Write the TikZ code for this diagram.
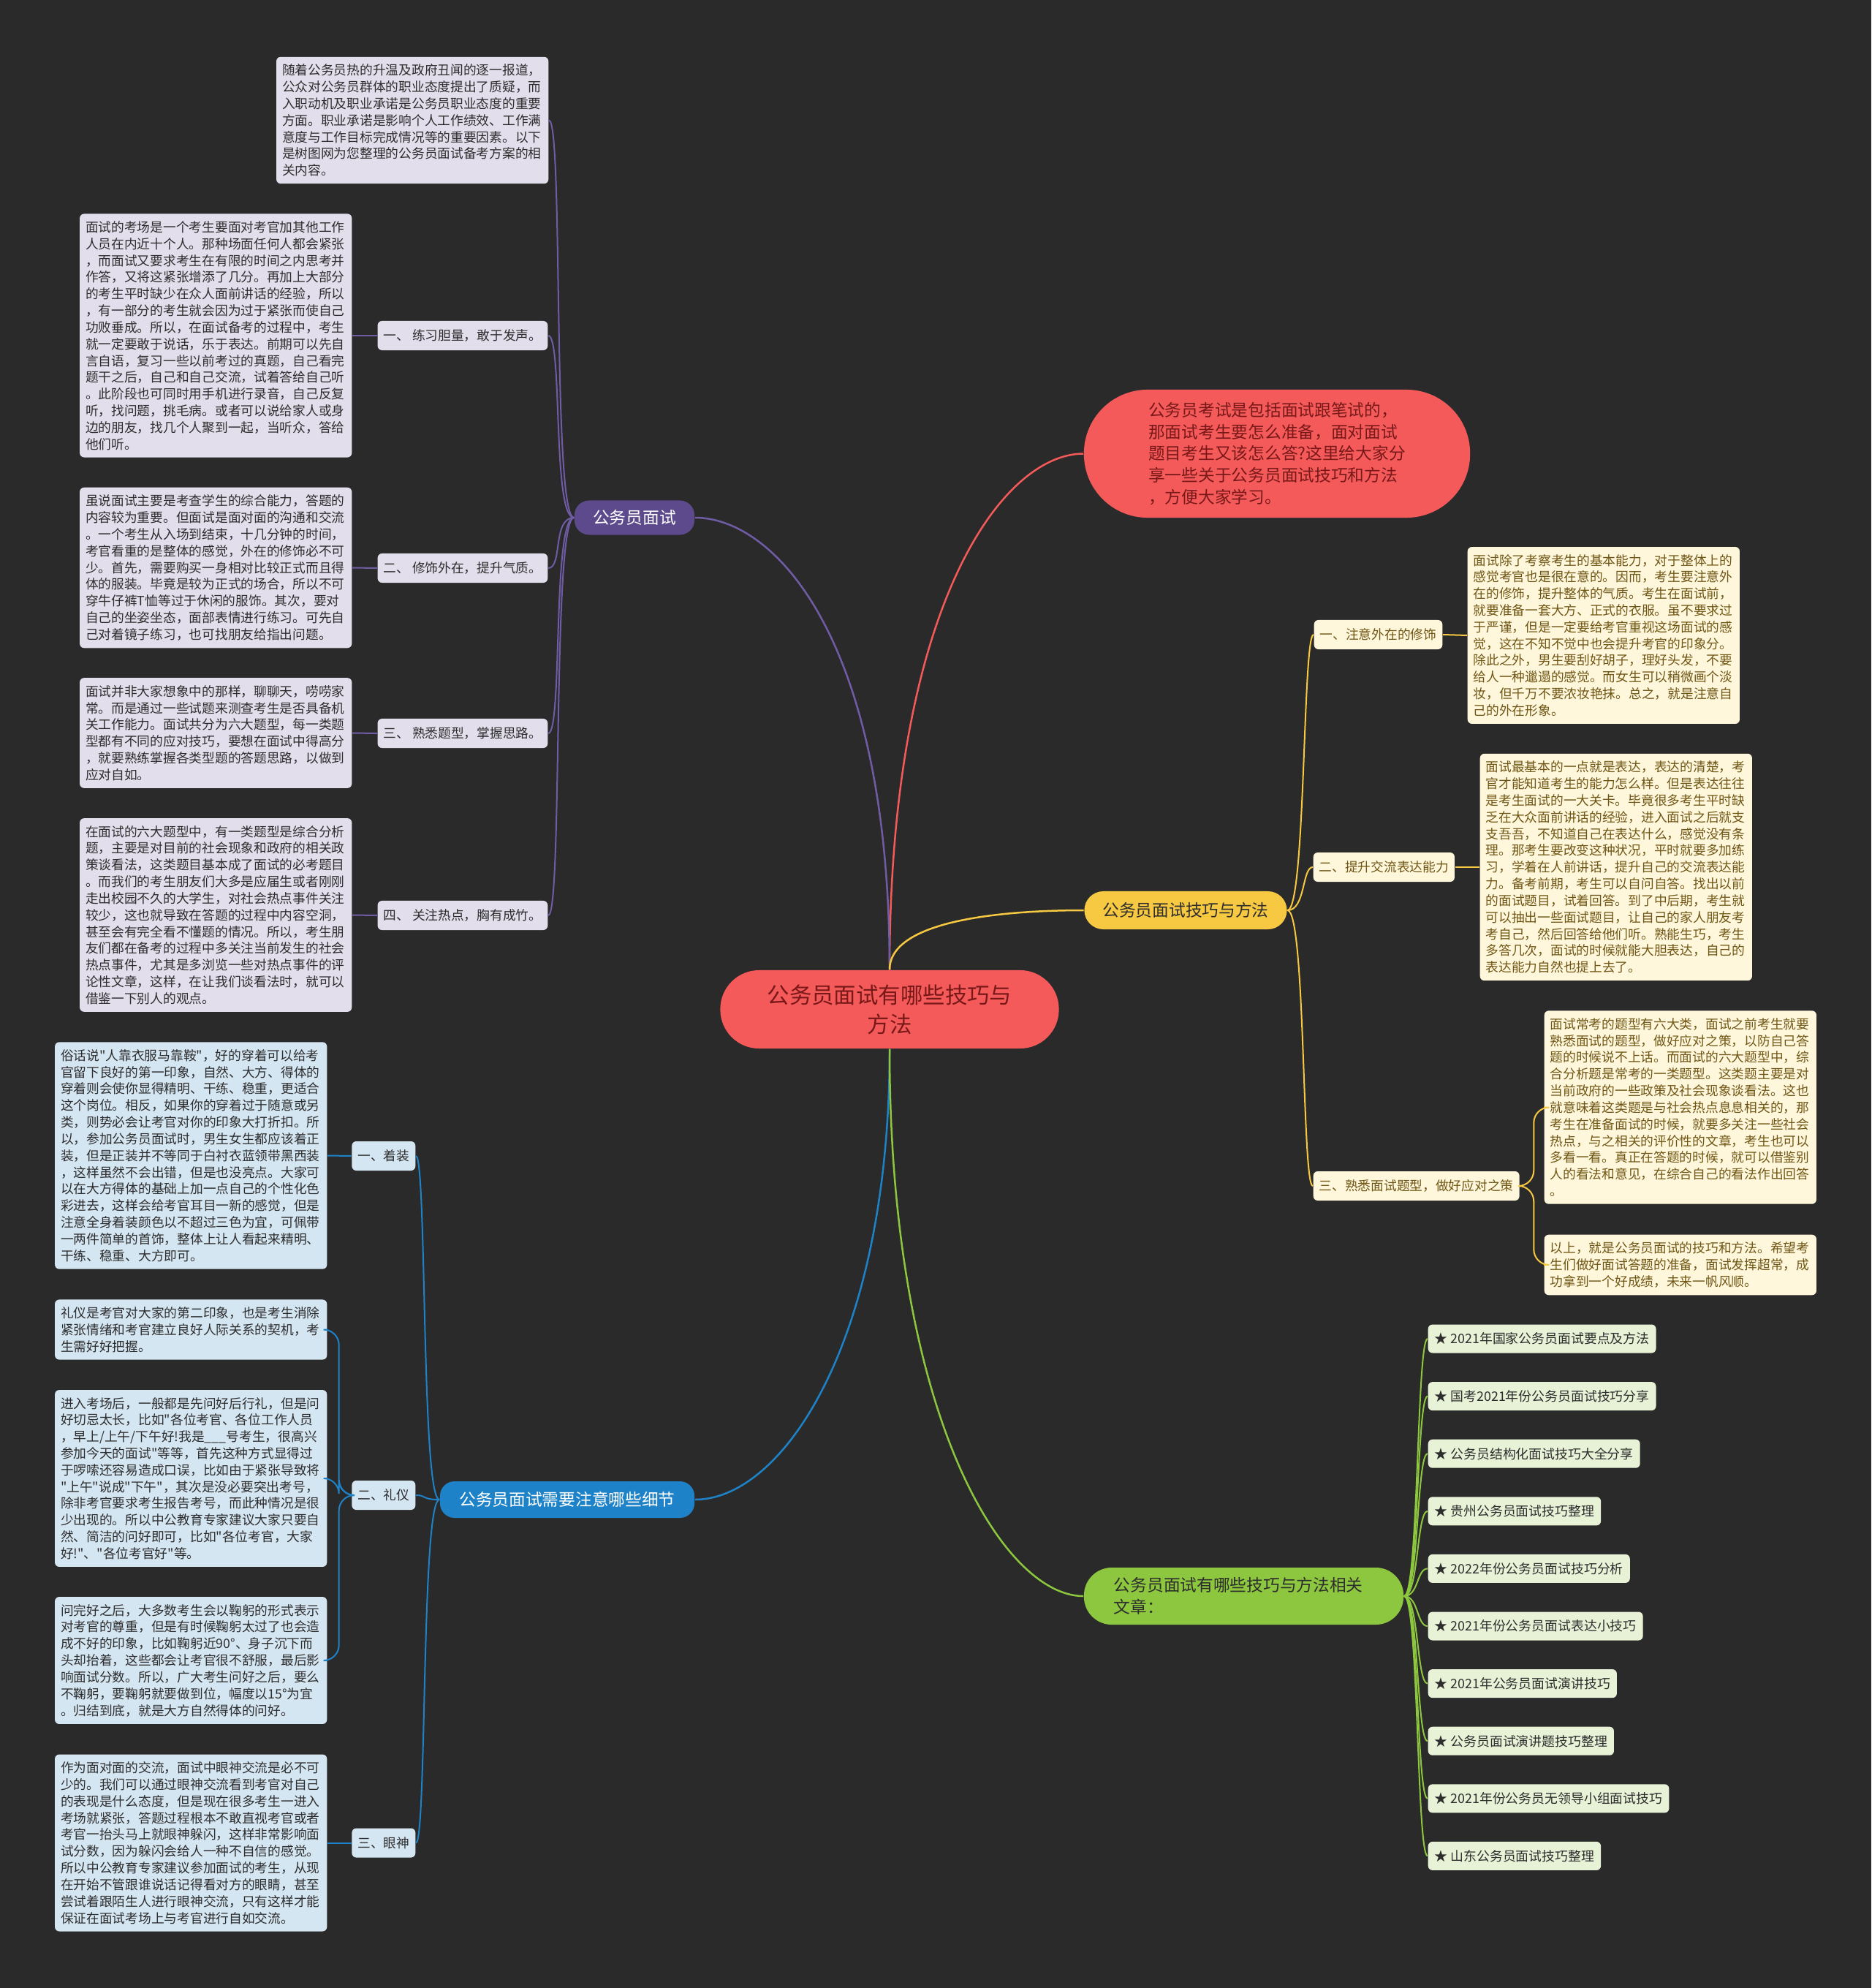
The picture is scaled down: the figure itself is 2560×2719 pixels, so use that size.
\documentclass[tikz,border=0pt]{standalone}
\usepackage{fontspec}
\setmainfont{Noto Sans CJK SC}
\newfontfamily\mapfont{Noto Sans CJK SC}
\usepackage{tikz}
\usetikzlibrary{positioning,calc}
\definecolor{bgDark}{RGB}{42,42,42}
\definecolor{rootRed}{RGB}{245,90,90}
\definecolor{rootText}{RGB}{120,24,24}
\definecolor{purpleMain}{RGB}{92,74,140}
\definecolor{purpleLine}{RGB}{112,92,165}
\definecolor{lavender}{RGB}{226,222,236}
\definecolor{yellowMain}{RGB}{247,200,66}
\definecolor{cream}{RGB}{254,247,220}
\definecolor{creamText}{RGB}{112,86,20}
\definecolor{blueMain}{RGB}{30,130,200}
\definecolor{paleBlue}{RGB}{213,230,243}
\definecolor{greenMain}{RGB}{141,198,63}
\definecolor{paleGreen}{RGB}{232,242,215}
\definecolor{darkText}{RGB}{45,45,45}
\newcommand{\mmbody}{\mapfont\fontsize{5.04pt}{6.49pt}\selectfont}
\newcommand{\mmbranch}{\mapfont\fontsize{6.46pt}{8.42pt}\selectfont}
\newcommand{\mmroot}{\mapfont\fontsize{8.65pt}{11.38pt}\selectfont}
\newcommand{\mmlink}{\mapfont\fontsize{5.08pt}{6.2pt}\selectfont}

\begin{document}
\begin{tikzpicture}[x=0.01cm,y=-0.01cm,
    every node/.style={inner sep=0pt},
    rootnode/.style={fill=rootRed,text=rootText,rounded corners=0.53cm,minimum width=4.63cm,minimum height=1.07cm,align=center,font=\mmroot},
    intronode/.style={fill=rootRed,text=rootText,rounded corners=0.87cm,minimum width=5.28cm,minimum height=1.75cm,align=left,font=\mmbranch},
    branchnode/.style={rounded corners=0.2cm,font=\mmbranch},
    topicbox/.style={rounded corners=0.06cm,text width=3.56cm,inner xsep=0.08cm,inner ysep=0.1cm,align=left,font=\mmbody},
    topiclabel/.style={rounded corners=0.06cm,minimum height=0.4cm,inner xsep=0.08cm,font=\mmbody},
    linkitem/.style={fill=paleGreen,text=darkText,rounded corners=0.06cm,minimum height=0.39cm,inner xsep=0.09cm,anchor=west,font=\mmlink},
    mainlink/.style={line width=0.71pt},
    sublink/.style={line width=0.57pt}]

  \fill[bgDark] (0,0) rectangle (2560,2719);
  \useasboundingbox (0,0) rectangle (2560,2719);

  % Centre and first level
  \node[rootnode] (root) at (1217,1380.5) {公务员面试有哪些技巧与\\方法};
  \node[intronode] (intro) at (1747,620.5) {公务员考试是包括面试跟笔试的，\\
那面试考生要怎么准备，面对面试\\
题目考生又该怎么答?这里给大家分\\
享一些关于公务员面试技巧和方法\\
，方便大家学习。};
  \node[branchnode,fill=purpleMain,text=white,minimum width=1.64cm,minimum height=0.47cm] (interview) at (868,708) {公务员面试};
  \node[branchnode,fill=yellowMain,text=darkText,minimum width=2.77cm,minimum height=0.52cm,rounded corners=0.26cm] (tips) at (1622,1245) {公务员面试技巧与方法};
  \node[branchnode,fill=blueMain,text=white,minimum width=3.48cm,minimum height=0.5cm] (details) at (776,2051) {公务员面试需要注意哪些细节};
  \node[branchnode,fill=greenMain,text=darkText,text width=3.55cm,inner xsep=0.41cm,minimum height=0.78cm,rounded corners=0.38cm,align=left] (related) at (1701.5,2183) {公务员面试有哪些技巧与方法相关\\文章：};

  \draw[mainlink,rootRed] (root.north) .. controls +(0,-500) and +(-110,0) .. (intro.west);
  \draw[mainlink,purpleLine] (root.north) .. controls +(0,-450) and +(110,0) .. (interview.east);
  \draw[mainlink,yellowMain] (root.north) .. controls +(0,-70) and +(-100,0) .. (tips.west);
  \draw[mainlink,blueMain] (root.south) .. controls +(0,400) and +(120,0) .. (details.east);
  \draw[mainlink,greenMain] (root.south) .. controls +(0,500) and +(-110,0) .. (related.west);

  % Purple branch
  \begin{scope}[every node/.append style={fill=lavender,text=darkText,anchor=east}]
    \node[topicbox] (pintro) at (751,164.5) {随着公务员热的升温及政府丑闻的逐一报道，\\
公众对公务员群体的职业态度提出了质疑，而\\
入职动机及职业承诺是公务员职业态度的重要\\
方面。职业承诺是影响个人工作绩效、工作满\\
意度与工作目标完成情况等的重要因素。以下\\
是树图网为您整理的公务员面试备考方案的相\\
关内容。};
    \node[topiclabel] (plab1) at (750,459) {一、 练习胆量，敢于发声。};
    \node[topicbox] (pbox1) at (482,459) {面试的考场是一个考生要面对考官加其他工作\\
人员在内近十个人。那种场面任何人都会紧张\\
，而面试又要求考生在有限的时间之内思考并\\
作答，又将这紧张增添了几分。再加上大部分\\
的考生平时缺少在众人面前讲话的经验，所以\\
，有一部分的考生就会因为过于紧张而使自己\\
功败垂成。所以，在面试备考的过程中，考生\\
就一定要敢于说话，乐于表达。前期可以先自\\
言自语，复习一些以前考过的真题，自己看完\\
题干之后，自己和自己交流，试着答给自己听\\
。此阶段也可同时用手机进行录音，自己反复\\
听，找问题，挑毛病。或者可以说给家人或身\\
边的朋友，找几个人聚到一起，当听众，答给\\
他们听。};
    \node[topiclabel] (plab2) at (750,777) {二、 修饰外在，提升气质。};
    \node[topicbox] (pbox2) at (482,776.5) {虽说面试主要是考查学生的综合能力，答题的\\
内容较为重要。但面试是面对面的沟通和交流\\
。一个考生从入场到结束，十几分钟的时间，\\
考官看重的是整体的感觉，外在的修饰必不可\\
少。首先，需要购买一身相对比较正式而且得\\
体的服装。毕竟是较为正式的场合，所以不可\\
穿牛仔裤T恤等过于休闲的服饰。其次，要对\\
自己的坐姿坐态，面部表情进行练习。可先自\\
己对着镜子练习，也可找朋友给指出问题。};
    \node[topiclabel] (plab3) at (750,1003) {三、 熟悉题型，掌握思路。};
    \node[topicbox] (pbox3) at (482,1002.5) {面试并非大家想象中的那样，聊聊天，唠唠家\\
常。而是通过一些试题来测查考生是否具备机\\
关工作能力。面试共分为六大题型，每一类题\\
型都有不同的应对技巧，要想在面试中得高分\\
，就要熟练掌握各类型题的答题思路，以做到\\
应对自如。};
    \node[topiclabel] (plab4) at (750,1252) {四、 关注热点，胸有成竹。};
    \node[topicbox] (pbox4) at (482,1251.5) {在面试的六大题型中，有一类题型是综合分析\\
题，主要是对目前的社会现象和政府的相关政\\
策谈看法，这类题目基本成了面试的必考题目\\
。而我们的考生朋友们大多是应届生或者刚刚\\
走出校园不久的大学生，对社会热点事件关注\\
较少，这也就导致在答题的过程中内容空洞，\\
甚至会有完全看不懂题的情况。所以，考生朋\\
友们都在备考的过程中多关注当前发生的社会\\
热点事件，尤其是多浏览一些对热点事件的评\\
论性文章，这样，在让我们谈看法时，就可以\\
借鉴一下别人的观点。};
  \end{scope}
  \draw[sublink,purpleLine] (interview.west) .. controls +(-30,0) and +(20,0) .. (pintro.east);
  \draw[sublink,purpleLine] (interview.west) .. controls +(-30,0) and +(20,0) .. (plab1.east);
  \draw[sublink,purpleLine] (interview.west) .. controls +(-30,0) and +(20,0) .. (plab2.east);
  \draw[sublink,purpleLine] (interview.west) .. controls +(-30,0) and +(20,0) .. (plab3.east);
  \draw[sublink,purpleLine] (interview.west) .. controls +(-30,0) and +(20,0) .. (plab4.east);
  \draw[sublink,purpleLine] (plab1.west) -- (pbox1.east);
  \draw[sublink,purpleLine] (plab2.west) -- (pbox2.east);
  \draw[sublink,purpleLine] (plab3.west) -- (pbox3.east);
  \draw[sublink,purpleLine] (plab4.west) -- (pbox4.east);

  % Yellow branch
  \begin{scope}[every node/.append style={fill=cream,text=creamText,anchor=west}]
    \node[topiclabel] (ylab1) at (1797,868) {一、注意外在的修饰};
    \node[topicbox] (ybox1) at (2007,869) {面试除了考察考生的基本能力，对于整体上的\\
感觉考官也是很在意的。因而，考生要注意外\\
在的修饰，提升整体的气质。考生在面试前，\\
就要准备一套大方、正式的衣服。虽不要求过\\
于严谨，但是一定要给考官重视这场面试的感\\
觉，这在不知不觉中也会提升考官的印象分。\\
除此之外，男生要刮好胡子，理好头发，不要\\
给人一种邋遢的感觉。而女生可以稍微画个淡\\
妆，但千万不要浓妆艳抹。总之，就是注意自\\
己的外在形象。};
    \node[topiclabel] (ylab2) at (1796,1186) {二、提升交流表达能力};
    \node[topicbox] (ybox2) at (2024,1186) {面试最基本的一点就是表达，表达的清楚，考\\
官才能知道考生的能力怎么样。但是表达往往\\
是考生面试的一大关卡。毕竟很多考生平时缺\\
乏在大众面前讲话的经验，进入面试之后就支\\
支吾吾，不知道自己在表达什么，感觉没有条\\
理。那考生要改变这种状况，平时就要多加练\\
习，学着在人前讲话，提升自己的交流表达能\\
力。备考前期，考生可以自问自答。找出以前\\
的面试题目，试着回答。到了中后期，考生就\\
可以抽出一些面试题目，让自己的家人朋友考\\
考自己，然后回答给他们听。熟能生巧，考生\\
多答几次，面试的时候就能大胆表达，自己的\\
表达能力自然也提上去了。};
    \node[topiclabel] (ylab3) at (1796,1622) {三、熟悉面试题型，做好应对之策};
    \node[topicbox] (ybox3a) at (2112,1514.5) {面试常考的题型有六大类，面试之前考生就要\\
熟悉面试的题型，做好应对之策，以防自己答\\
题的时候说不上话。而面试的六大题型中，综\\
合分析题是常考的一类题型。这类题主要是对\\
当前政府的一些政策及社会现象谈看法。这也\\
就意味着这类题是与社会热点息息相关的，那\\
考生在准备面试的时候，就要多关注一些社会\\
热点，与之相关的评价性的文章，考生也可以\\
多看一看。真正在答题的时候，就可以借鉴别\\
人的看法和意见，在综合自己的看法作出回答\\
。};
    \node[topicbox] (ybox3b) at (2112,1730) {以上，就是公务员面试的技巧和方法。希望考\\
生们做好面试答题的准备，面试发挥超常，成\\
功拿到一个好成绩，未来一帆风顺。};
  \end{scope}
  \draw[sublink,yellowMain] (tips.east) .. controls +(25,0) and +(-15,0) .. (ylab1.west);
  \draw[sublink,yellowMain] (tips.east) .. controls +(25,0) and +(-15,0) .. (ylab2.west);
  \draw[sublink,yellowMain] (tips.east) .. controls +(25,0) and +(-15,0) .. (ylab3.west);
  \draw[sublink,yellowMain] (ylab1.east) -- (ybox1.west);
  \draw[sublink,yellowMain] (ylab2.east) -- (ybox2.west);
  \draw[sublink,yellowMain,rounded corners=6] (ylab3.east) -- ++(19,0) |- (ybox3a.west);
  \draw[sublink,yellowMain,rounded corners=6] (ylab3.east) -- ++(19,0) |- (ybox3b.west);

  % Blue branch
  \begin{scope}[every node/.append style={fill=paleBlue,text=darkText,anchor=east}]
    \node[topiclabel] (blab1) at (569,1581) {一、着装};
    \node[topicbox] (bbox1) at (448,1580.5) {俗话说"人靠衣服马靠鞍"，好的穿着可以给考\\
官留下良好的第一印象，自然、大方、得体的\\
穿着则会使你显得精明、干练、稳重，更适合\\
这个岗位。相反，如果你的穿着过于随意或另\\
类，则势必会让考官对你的印象大打折扣。所\\
以，参加公务员面试时，男生女生都应该着正\\
装，但是正装并不等同于白衬衣蓝领带黑西装\\
，这样虽然不会出错，但是也没亮点。大家可\\
以在大方得体的基础上加一点自己的个性化色\\
彩进去，这样会给考官耳目一新的感觉，但是\\
注意全身着装颜色以不超过三色为宜，可佩带\\
一两件简单的首饰，整体上让人看起来精明、\\
干练、稳重、大方即可。};
    \node[topiclabel] (blab2) at (569,2045) {二、礼仪};
    \node[topicbox] (bbox2a) at (448,1818.5) {礼仪是考官对大家的第二印象，也是考生消除\\
紧张情绪和考官建立良好人际关系的契机，考\\
生需好好把握。};
    \node[topicbox] (bbox2b) at (448,2022) {进入考场后，一般都是先问好后行礼，但是问\\
好切忌太长，比如"各位考官、各位工作人员\\
，早上/上午/下午好!我是\_\_\_号考生，很高兴\\
参加今天的面试"等等，首先这种方式显得过\\
于啰嗦还容易造成口误，比如由于紧张导致将\\
"上午"说成"下午"，其次是没必要突出考号，\\
除非考官要求考生报告考号，而此种情况是很\\
少出现的。所以中公教育专家建议大家只要自\\
然、简洁的问好即可，比如"各位考官，大家\\
好!"、"各位考官好"等。};
    \node[topicbox] (bbox2c) at (448,2271) {问完好之后，大多数考生会以鞠躬的形式表示\\
对考官的尊重，但是有时候鞠躬太过了也会造\\
成不好的印象，比如鞠躬近90°、身子沉下而\\
头却抬着，这些都会让考官很不舒服，最后影\\
响面试分数。所以，广大考生问好之后，要么\\
不鞠躬，要鞠躬就要做到位，幅度以15°为宜\\
。归结到底，就是大方自然得体的问好。};
    \node[topiclabel] (blab3) at (569,2520.5) {三、眼神};
    \node[topicbox] (bbox3) at (448,2520.5) {作为面对面的交流，面试中眼神交流是必不可\\
少的。我们可以通过眼神交流看到考官对自己\\
的表现是什么态度，但是现在很多考生一进入\\
考场就紧张，答题过程根本不敢直视考官或者\\
考官一抬头马上就眼神躲闪，这样非常影响面\\
试分数，因为躲闪会给人一种不自信的感觉。\\
所以中公教育专家建议参加面试的考生，从现\\
在开始不管跟谁说话记得看对方的眼睛，甚至\\
尝试着跟陌生人进行眼神交流，只有这样才能\\
保证在面试考场上与考官进行自如交流。};
  \end{scope}
  \draw[sublink,blueMain] (details.west) .. controls +(-25,0) and +(15,0) .. (blab1.east);
  \draw[sublink,blueMain] (details.west) .. controls +(-25,0) and +(15,0) .. (blab2.east);
  \draw[sublink,blueMain] (details.west) .. controls +(-25,0) and +(15,0) .. (blab3.east);
  \draw[sublink,blueMain] (blab1.west) -- (bbox1.east);
  \draw[sublink,blueMain,rounded corners=6] (blab2.west) -- ++(-17,0) |- (bbox2a.east);
  \draw[sublink,blueMain,rounded corners=6] (blab2.west) -- ++(-17,0) |- (bbox2b.east);
  \draw[sublink,blueMain,rounded corners=6] (blab2.west) -- ++(-17,0) |- (bbox2c.east);
  \draw[sublink,blueMain] (blab3.west) -- (bbox3.east);

  % Green branch: related articles
  \node[linkitem] (art1) at (1953,1831) {★ 2021年国家公务员面试要点及方法};
  \node[linkitem] (art2) at (1953,1909.6) {★ 国考2021年份公务员面试技巧分享};
  \node[linkitem] (art3) at (1953,1988.2) {★ 公务员结构化面试技巧大全分享};
  \node[linkitem] (art4) at (1953,2066.8) {★ 贵州公务员面试技巧整理};
  \node[linkitem] (art5) at (1953,2145.4) {★ 2022年份公务员面试技巧分析};
  \node[linkitem] (art6) at (1953,2224) {★ 2021年份公务员面试表达小技巧};
  \node[linkitem] (art7) at (1953,2302.6) {★ 2021年公务员面试演讲技巧};
  \node[linkitem] (art8) at (1953,2381.2) {★ 公务员面试演讲题技巧整理};
  \node[linkitem] (art9) at (1953,2459.8) {★ 2021年份公务员无领导小组面试技巧};
  \node[linkitem] (art10) at (1953,2538.4) {★ 山东公务员面试技巧整理};
  \draw[sublink,greenMain] (related.east) .. controls +(20,0) and +(-15,0) .. (art1.west);
  \draw[sublink,greenMain] (related.east) .. controls +(20,0) and +(-15,0) .. (art2.west);
  \draw[sublink,greenMain] (related.east) .. controls +(20,0) and +(-15,0) .. (art3.west);
  \draw[sublink,greenMain] (related.east) .. controls +(20,0) and +(-15,0) .. (art4.west);
  \draw[sublink,greenMain] (related.east) .. controls +(20,0) and +(-15,0) .. (art5.west);
  \draw[sublink,greenMain] (related.east) .. controls +(20,0) and +(-15,0) .. (art6.west);
  \draw[sublink,greenMain] (related.east) .. controls +(20,0) and +(-15,0) .. (art7.west);
  \draw[sublink,greenMain] (related.east) .. controls +(20,0) and +(-15,0) .. (art8.west);
  \draw[sublink,greenMain] (related.east) .. controls +(20,0) and +(-15,0) .. (art9.west);
  \draw[sublink,greenMain] (related.east) .. controls +(20,0) and +(-15,0) .. (art10.west);
\end{tikzpicture}
\end{document}
